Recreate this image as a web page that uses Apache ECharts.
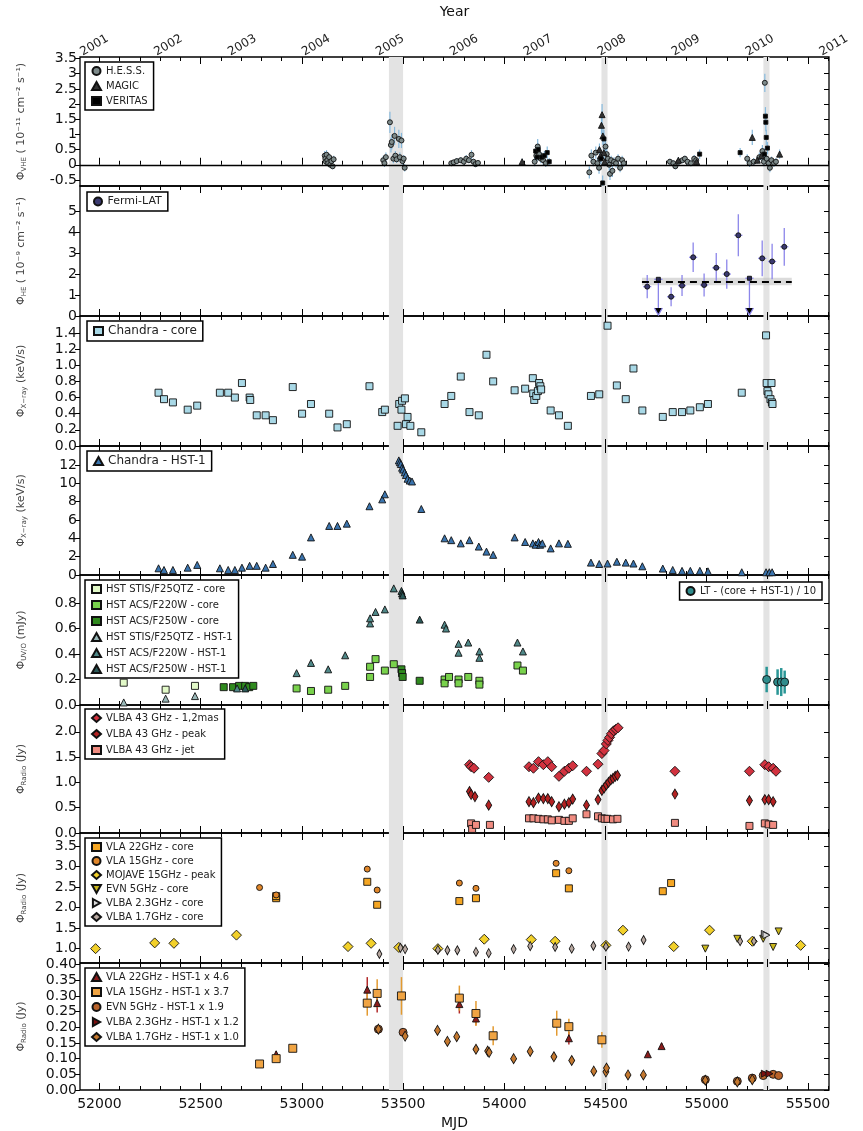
<!DOCTYPE html>
<html><head><meta charset="utf-8">
<script src="https://cdn.jsdelivr.net/npm/echarts@6/dist/echarts.min.js"></script>
<style>html,body{margin:0;padding:0;background:#fff}#c{width:863px;height:1131px}</style>
</head><body><div id="c"></div><script>
// ---------- axes / ticks ----------
const yearLabels = ['2001','2002','2003','2004','2005','2006','2007','2008','2009','2010','2011'];
const yearMJD = [51910,52275,52640,53005,53371,53736,54101,54466,54832,55197,55562];
const mjdMajor = [52000,52500,53000,53500,54000,54500,55000,55500];
const flareBands = [[53430,53500],[54480,54510],[55280,55310]];
const vheTicks = [-0.5,0,0.5,1,1.5,2,2.5,3,3.5];
const heTicks = [0,1,2,3,4,5];
const xcoreTicks = [0,0.2,0.4,0.6,0.8,1.0,1.2,1.4];
const xhstTicks = [0,2,4,6,8,10,12];
const uvoTicks = [0,0.2,0.4,0.6,0.8];
const r43Ticks = [0,0.5,1.0,1.5,2.0];
const rcoreTicks = [1.0,1.5,2.0,2.5,3.0,3.5];
const rhstTicks = [0,0.05,0.10,0.15,0.20,0.25,0.30,0.35,0.40];

// ---------- Panel 1: VHE [mjd, flux, err] ----------
const hess = [[53113,0.30,0.15],[53116,0.20,0.12],[53119,0.10,0.12],[53122,0.33,0.15],[53126,0.15,0.12],[53130,0.05,0.1],[53135,0.25,0.12],[53140,0.00,0.1],[53146,0.12,0.1],[53152,-0.05,0.1],[53157,0.18,0.12],
[53402,0.15,0.15],[53408,0.05,0.12],[53415,0.25,0.15],[53435,1.40,0.35],[53440,0.65,0.25],[53444,0.75,0.25],[53452,0.20,0.15],[53458,0.95,0.3],[53462,0.30,0.15],[53468,0.18,0.12],[53479,0.85,0.3],[53484,0.25,0.15],[53492,0.80,0.25],[53497,0.12,0.12],[53503,0.20,0.12],[53508,-0.10,0.12],
[53738,0.05,0.08],[53750,0.08,0.08],[53765,0.12,0.1],[53785,0.15,0.1],[53800,0.10,0.1],[53812,0.20,0.12],[53825,0.15,0.1],[53838,0.33,0.15],[53848,0.10,0.1],[53858,0.02,0.1],[53870,0.06,0.08],
[54150,0.10,0.15],[54158,0.30,0.2],[54165,0.60,0.25],[54172,0.35,0.2],[54180,0.20,0.15],[54192,0.15,0.15],[54205,0.05,0.12],
[54420,-0.25,0.2],[54430,0.30,0.2],[54440,0.10,0.15],[54452,0.40,0.2],[54460,0.05,0.15],[54468,-0.10,0.2],[54474,0.20,0.15],[54500,0.60,0.25],[54506,0.35,0.2],[54512,0.20,0.2],[54518,0.00,0.2],[54522,-0.30,0.2],[54528,0.15,0.15],[54534,-0.20,0.2],[54542,0.10,0.15],[54552,0.05,0.15],[54562,0.20,0.15],[54572,-0.10,0.15],[54582,0.15,0.15],[54590,0.05,0.12],
[54818,0.10,0.1],[54835,0.05,0.1],[54845,-0.05,0.1],[54862,0.10,0.1],[54880,0.15,0.1],[54892,0.20,0.1],[54905,0.10,0.1],[54922,0.05,0.1],[54938,0.20,0.12],[54948,0.15,0.1],
[55200,0.20,0.15],[55212,0.05,0.12],[55232,0.10,0.12],[55260,0.25,0.15],[55275,0.45,0.2],[55282,0.10,0.15],[55287,2.70,0.3],[55296,0.20,0.15],[55305,0.05,0.15],[55312,-0.10,0.15],[55320,0.15,0.12],[55332,0.05,0.12],[55342,0.10,0.12]];
const magic = [[54088,0.10,0.1],[54470,0.50,0.2],[54476,0.30,0.2],[54480,1.30,0.3],[54483,1.65,0.35],[54487,0.95,0.3],[54492,0.40,0.2],[54496,0.10,0.15],[54860,0.15,0.1],[54950,0.10,0.1],[55225,0.90,0.25],[55250,0.15,0.12],[55270,0.30,0.15],[55360,0.35,0.15]];
const veritas = [[54155,0.45,0.2],[54162,0.25,0.15],[54168,0.50,0.2],[54185,0.25,0.15],[54198,0.30,0.15],[54212,0.40,0.2],[54222,0.10,0.12],[54478,0.20,0.2],[54486,-0.60,0.25],[54492,0.85,0.3],[54965,0.35,0.15],[55165,0.40,0.15],[55285,0.35,0.2],[55290,1.60,0.3],[55292,1.40,0.3],[55294,0.90,0.25],[55300,0.55,0.2]];

// ---------- Panel 2: Fermi [mjd, flux, yerr, xerr] ----------
const fermi = [[54706,1.40,0.55,20],[54824,0.92,0.45,20],[54878,1.45,0.5,20],[54933,2.80,0.7,20],[54987,1.48,0.55,20],[55047,2.30,0.7,20],[55099,2.00,0.7,20],[55156,3.85,1.0,20],[55274,2.75,0.85,20],[55323,2.60,0.85,20],[55383,3.30,0.9,20]];
const fermiUL = [[54761,1.75,20],[55211,1.80,20]];
const fermiMean = 1.65, fermiMeanLo = 1.47, fermiMeanHi = 1.82, fermiFrom = 54680, fermiTo = 55420;

// ---------- Panel 3: Chandra core ----------
const chandraCore = [[52292,0.66],[52319,0.58],[52363,0.54],[52436,0.45],[52483,0.50],[52595,0.66],[52636,0.66],[52669,0.60],[52704,0.78],[52742,0.60],[52745,0.57],[52777,0.38],[52821,0.38],[52857,0.32],[52955,0.73],[53001,0.40],[53045,0.52],[53135,0.40],[53176,0.23],[53222,0.27],[53334,0.74],[53397,0.42],[53410,0.45],[53473,0.25],[53481,0.52],[53492,0.45],[53495,0.56],[53509,0.59],[53514,0.27],[53522,0.36],[53536,0.25],[53590,0.17],[53705,0.52],[53738,0.62],[53785,0.86],[53828,0.42],[53874,0.38],[53912,1.13],[53945,0.80],[54051,0.69],[54103,0.71],[54141,0.84],[54143,0.65],[54148,0.57],[54158,0.62],[54166,0.68],[54172,0.78],[54178,0.74],[54182,0.70],[54229,0.44],[54270,0.38],[54314,0.25],[54428,0.62],[54469,0.64],[54510,1.49],[54556,0.75],[54600,0.58],[54638,0.96],[54682,0.44],[54783,0.36],[54832,0.42],[54878,0.42],[54919,0.44],[54966,0.48],[55006,0.52],[55173,0.66],[55293,1.37],[55296,0.78],[55320,0.78],[55300,0.68],[55305,0.64],[55315,0.58],[55322,0.54],[55325,0.52]];

// ---------- Panel 4: Chandra HST-1 ----------
const chandraHst1 = [[52292,0.73],[52319,0.55],[52363,0.55],[52436,0.8],[52483,1.1],[52595,0.73],[52636,0.55],[52669,0.55],[52704,0.8],[52742,1.0],[52777,1.0],[52821,0.8],[52857,1.2],[52955,2.2],[53001,2.0],[53045,4.1],[53135,5.35],[53176,5.35],[53222,5.6],[53334,7.5],[53397,8.25],[53410,8.8],[53479,12.5],[53484,12.3],[53489,12.1],[53495,11.7],[53500,11.5],[53508,11.2],[53514,10.9],[53522,10.5],[53533,10.3],[53544,10.2],[53590,7.2],[53705,4.0],[53738,3.8],[53785,3.45],[53828,3.8],[53874,3.1],[53912,2.55],[53945,2.2],[54051,4.1],[54103,3.6],[54141,3.45],[54155,3.3],[54169,3.6],[54177,3.3],[54188,3.45],[54229,2.9],[54270,3.45],[54314,3.4],[54428,1.35],[54469,1.2],[54510,1.25],[54556,1.45],[54600,1.35],[54638,1.25],[54682,0.95],[54783,0.7],[54832,0.55],[54878,0.45],[54919,0.45],[54966,0.45],[55006,0.4],[55173,0.3],[55293,0.3],[55309,0.3],[55323,0.3]];

// ---------- Panel 5: UV / optical ----------
const stisCore = [[52120,0.175],[52327,0.12],[52472,0.15]];
const acs220Core = [[52974,0.13],[53045,0.11],[53130,0.12],[53214,0.15],[53337,0.30],[53337,0.22],[53364,0.36],[53410,0.27],[53454,0.32],[53705,0.20],[53705,0.17],[53727,0.22],[53774,0.20],[53774,0.17],[53822,0.22],[53877,0.19],[53877,0.16],[54065,0.31],[54092,0.27]];
const acs250Core = [[52614,0.14],[52660,0.14],[52690,0.15],[52720,0.15],[52740,0.14],[52760,0.15],[53492,0.28],[53495,0.25],[53498,0.22],[53582,0.19]];
const stisHst1 = [[52120,0.02],[52327,0.05],[52472,0.07]];
const acs220Hst1 = [[52680,0.13],[52974,0.25],[53045,0.33],[53130,0.28],[53214,0.39],[53337,0.64],[53337,0.68],[53364,0.73],[53410,0.75],[53454,0.915],[53705,0.63],[53712,0.60],[53774,0.48],[53774,0.41],[53822,0.49],[53877,0.42],[53877,0.37],[54065,0.49],[54092,0.42]];
const acs250Hst1 = [[52720,0.13],[53492,0.895],[53495,0.875],[53498,0.86],[53582,0.67]];
const ltFlux = [[55296,0.20,0.1],[55350,0.18,0.1],[55368,0.18,0.11],[55385,0.18,0.09]];

// ---------- Panel 6: VLBA 43 GHz ----------
const vlba43Mas = [[53828,1.35],[53836,1.31],[53850,1.28],[53923,1.10],[54122,1.31],[54144,1.28],[54169,1.41],[54193,1.35],[54215,1.41],[54234,1.31],[54270,1.12],[54297,1.22],[54319,1.28],[54338,1.33],[54406,1.22],[54463,1.36],[54482,1.57],[54493,1.63],[54504,1.76],[54512,1.83],[54520,1.89],[54529,1.96],[54540,2.02],[54551,2.05],[54562,2.08],[54843,1.22],[55211,1.22],[55287,1.35],[55306,1.31],[55328,1.28],[55342,1.22]];
const vlba43Peak = [[53828,0.82],[53836,0.76],[53855,0.72],[53923,0.55],[54122,0.62],[54144,0.60],[54169,0.69],[54193,0.68],[54215,0.68],[54234,0.62],[54270,0.52],[54297,0.57],[54319,0.60],[54338,0.67],[54406,0.55],[54463,0.66],[54482,0.84],[54493,0.89],[54504,0.95],[54515,1.00],[54526,1.05],[54537,1.08],[54548,1.12],[54559,1.14],[54843,0.77],[55211,0.64],[55287,0.66],[55306,0.66],[55328,0.62]];
const vlba43Jet = [[53836,0.19],[53841,0.08],[53860,0.16],[53929,0.16],[54122,0.29],[54144,0.29],[54169,0.28],[54193,0.27],[54215,0.27],[54234,0.25],[54270,0.26],[54297,0.24],[54319,0.24],[54338,0.29],[54406,0.37],[54463,0.33],[54482,0.29],[54496,0.28],[54510,0.28],[54537,0.27],[54559,0.28],[54843,0.20],[55211,0.14],[55287,0.19],[55306,0.17],[55328,0.16]];

// ---------- Panel 7: radio core ----------
const vla22Core = [[52873,2.23],[52873,2.28],[53323,2.63],[53372,2.07],[53778,2.16],[53860,2.23],[54256,2.84],[54319,2.47],[54783,2.40],[54824,2.60]];
const vla15Core = [[52791,2.49],[52873,2.31],[53323,2.94],[53372,2.43],[53778,2.60],[53860,2.47],[54256,3.08],[54319,2.90]];
const mojavePeak = [[51981,1.0],[52273,1.14],[52368,1.13],[52677,1.33],[53228,1.05],[53342,1.13],[53479,1.03],[53672,1.0],[53901,1.23],[54133,1.22],[54251,1.18],[54502,1.08],[54586,1.45],[54837,1.05],[55014,1.45],[55225,1.18],[55464,1.08]];
const evnCore = [[54993,1.0],[55151,1.24],[55279,1.24],[55328,1.04],[55355,1.42]];
const vlba23Core = [[55287,1.36],[55295,1.33]];
const vlba17Core = [[53383,0.87],[53487,1.02],[53510,0.99],[53672,0.97],[53719,0.96],[53768,0.96],[53860,0.92],[53923,0.89],[54046,0.99],[54128,1.06],[54251,1.04],[54333,1.0],[54440,1.07],[54502,1.05],[54614,1.05],[54688,1.21],[55165,1.18],[55233,1.18]];

// ---------- Panel 8: radio HST-1 ----------
const vla22Hst1 = [[52873,0.114,0.01],[53323,0.32,0.04],[53372,0.277,0.03],[53778,0.274,0.03],[53860,0.228,0.02],[54319,0.165,0.02],[54709,0.114,0.01],[54777,0.14,0.01]];
const vla15Hst1 = [[52791,0.083,0.008],[52873,0.10,0.01],[52955,0.133,0.01],[53323,0.277,0.04],[53372,0.308,0.045],[53492,0.30,0.06],[53778,0.293,0.04],[53860,0.244,0.04],[53945,0.173,0.03],[54259,0.213,0.04],[54319,0.202,0.025],[54482,0.16,0.025]];
const evnHst1 = [[53378,0.194],[53500,0.184],[54993,0.033],[55151,0.028],[55225,0.038],[55279,0.046],[55328,0.05],[55355,0.046]];
const vlba23Hst1 = [[55287,0.052],[55310,0.052]];
const vlba17Hst1 = [[53378,0.194],[53510,0.172],[53670,0.19],[53719,0.155],[53765,0.17],[53860,0.13],[53918,0.124],[53925,0.12],[54046,0.10],[54128,0.123],[54245,0.106],[54333,0.094],[54442,0.06],[54502,0.058],[54505,0.07],[54611,0.048],[54687,0.048],[54993,0.031],[55151,0.026],[55225,0.033]];

// ---------- layout ----------
const X_MIN = 51904, X_MAX = 55604;
const mjdMinor = [];
for (let v = 52000; v <= 55600; v += 100) if (mjdMajor.indexOf(v) < 0) mjdMinor.push(v);

const DOWN_TRI = 'path://M0,0 L10,0 L5,9 Z';
const RIGHT_TRI = 'path://M0,0 L9,5 L0,10 Z';

function nm(sub, unit){ return '{a|Φ}{s|' + sub + '}{a|' + unit + '}'; }
const panels = [
  {top:57,  h:129, min:-0.7, max:3.55, ticks:vheTicks,   dec:-1, name:nm('VHE',' ( 10⁻¹¹ cm⁻² s⁻¹)')},
  {top:186, h:130, min:0, max:6.2,  ticks:heTicks,    dec:0, name:nm('HE',' ( 10⁻⁹ cm⁻² s⁻¹)')},
  {top:316, h:130, min:0, max:1.61, ticks:xcoreTicks, dec:1, name:nm('X−ray',' (keV/s)')},
  {top:446, h:129, min:0, max:14.07,ticks:xhstTicks,  dec:0, name:nm('X−ray',' (keV/s)')},
  {top:575, h:130, min:0, max:1.02, ticks:uvoTicks,   dec:1, name:nm('UV/O',' (mJy)')},
  {top:705, h:128, min:0, max:2.53, ticks:r43Ticks,   dec:1, name:nm('Radio',' (Jy)')},
  {top:833, h:130, min:0.65, max:3.82, ticks:rcoreTicks, dec:1, name:nm('Radio',' (Jy)')},
  {top:963, h:131, min:0, max:0.405, ticks:rhstTicks, dec:2, name:nm('Radio',' (Jy)')}
];

const grids = [], xAxes = [], yAxes = [], series = [], legends = [];
const xMain = [], yMain = [];
function xAx(gi, pos, ticks, len, showLabel){
  return {type:'value', gridIndex:gi, position:pos, min:X_MIN, max:X_MAX,
    axisLine:{show:false}, splitLine:{show:false},
    axisTick:{show:true, inside:true, length:len, customValues:ticks, lineStyle:{color:'#000', width:1}},
    axisLabel:{show:showLabel, customValues:mjdMajor, fontSize:14, color:'#111', margin:7, formatter:v=>String(v)},
    name: showLabel ? 'MJD' : '', nameLocation:'middle', nameGap:26, nameTextStyle:{fontSize:14, color:'#111'}};
}
panels.forEach((p, gi) => {
  grids.push({left:80, right:34, top:p.top, height:p.h, show:true, borderColor:'#000', borderWidth:1.3, backgroundColor:'rgba(0,0,0,0)'});
  const last = gi === panels.length - 1;
  xMain.push(xAxes.length);
  xAxes.push(xAx(gi, 'bottom', mjdMajor, 7, last));
  xAxes.push(xAx(gi, 'bottom', mjdMinor, 4, false));
  xAxes.push(xAx(gi, 'top', mjdMajor, 7, false));
  xAxes.push(xAx(gi, 'top', mjdMinor, 4, false));
  yMain.push(yAxes.length);
  yAxes.push({type:'value', gridIndex:gi, position:'left', min:p.min, max:p.max,
    axisLine:{show:false}, splitLine:{show:false},
    axisTick:{show:true, inside:false, length:5, customValues:p.ticks, lineStyle:{color:'#000'}},
    axisLabel:{customValues:p.ticks, fontSize:14, color:'#111', margin:3,
      formatter: v => p.dec < 0 ? String(+v.toFixed(2)) : (+v).toFixed(p.dec)},
    name:p.name, nameLocation:'middle', nameGap:52,
    nameTextStyle:{rich:{a:{fontSize:11, color:'#444'}, s:{fontSize:7, color:'#444', verticalAlign:'bottom', padding:[6,0,0,0]}}}});
  yAxes.push({type:'value', gridIndex:gi, position:'right', min:p.min, max:p.max,
    axisLine:{show:false}, splitLine:{show:false},
    axisTick:{show:true, inside:true, length:5, customValues:p.ticks, lineStyle:{color:'#000'}},
    axisLabel:{show:false}});
  // flare bands
  series.push({type:'custom', xAxisIndex:xMain[gi], yAxisIndex:yMain[gi], silent:true, z:0, clip:true,
    data: flareBands.map(b => [b[0], p.min, b[1]]), encode:{x:[0,2], y:1},
    renderItem:(params, api) => {
      const cs = params.coordSys;
      const a = api.coord([api.value(0), api.value(1)])[0];
      const b = api.coord([api.value(2), api.value(1)])[0];
      return {type:'rect', shape:{x:a, y:cs.y, width:b - a, height:cs.height}, style:{fill:'#e3e3e3'}};
    }});
});
// year axis on top of first grid
xAxes.push({type:'value', gridIndex:0, position:'top', min:X_MIN, max:X_MAX,
  axisLine:{show:false}, axisTick:{show:false}, splitLine:{show:false},
  axisLabel:{customValues:yearMJD, formatter:v => yearLabels[yearMJD.indexOf(v)], rotate:-30, fontSize:12, color:'#222', margin:4},
  name:'Year', nameLocation:'middle', nameGap:38, nameTextStyle:{fontSize:14, color:'#111'}});

function sc(name, data, gi, sym, size, color, extra){
  return Object.assign({type:'scatter', name, xAxisIndex:xMain[gi], yAxisIndex:yMain[gi],
    data: data.map(d => [d[0], d[1]]), symbol:sym, symbolSize:size, z:4,
    itemStyle:{color, borderColor:'#111', borderWidth:0.9, opacity:1}}, extra || {});
}
function err(rows, gi, color, width){
  return {type:'custom', xAxisIndex:xMain[gi], yAxisIndex:yMain[gi], silent:true, z:2, clip:true,
    data: rows.map(r => [r[0], r[1] - r[2], r[1] + r[2], r[1], r.length > 3 ? r[3] : 0]),
    encode:{x:0, y:[1,2]},
    renderItem:(params, api) => {
      const x = api.value(0), y = api.value(3), xe = api.value(4);
      const a = api.coord([x, api.value(1)]), b = api.coord([x, api.value(2)]);
      const ch = [{type:'line', shape:{x1:a[0], y1:a[1], x2:b[0], y2:b[1]}, style:{stroke:color, lineWidth:width}}];
      if (xe) { const c = api.coord([x - xe, y]), d = api.coord([x + xe, y]);
        ch.push({type:'line', shape:{x1:c[0], y1:c[1], x2:d[0], y2:d[1]}, style:{stroke:color, lineWidth:width}}); }
      return {type:'group', children:ch};
    }};
}

// Panel 1
series.push(err(hess, 0, '#86b9dc', 1.2), err(magic, 0, '#86b9dc', 1.2), err(veritas, 0, '#86b9dc', 1.2));
series.push(sc('H.E.S.S.', hess, 0, 'circle', 5, '#7d8a8a', {markLine:{silent:true, symbol:'none', label:{show:false}, data:[{yAxis:0}], lineStyle:{color:'#000', type:'solid', width:1.3}}}));
series.push(sc('MAGIC', magic, 0, 'triangle', 6, '#333'));
series.push(sc('VERITAS', veritas, 0, 'rect', 4, '#000'));

// Panel 2
series.push(err(fermi, 1, '#8c86ea', 1.3));
series.push({type:'custom', xAxisIndex:xMain[1], yAxisIndex:yMain[1], silent:true, z:2, clip:false,
  data: fermiUL.map(r => [r[0], r[1], r[2]]), encode:{x:0, y:1},
  renderItem:(params, api) => {
    const x = api.value(0), y = api.value(1), xe = api.value(2);
    const a = api.coord([x, y]), b = api.coord([x, 0.05]);
    const c = api.coord([x - xe, y]), d = api.coord([x + xe, y]);
    const st = {stroke:'#8c86ea', lineWidth:1.3};
    return {type:'group', children:[
      {type:'line', shape:{x1:a[0], y1:a[1], x2:b[0], y2:b[1]}, style:st},
      {type:'line', shape:{x1:c[0], y1:c[1], x2:d[0], y2:d[1]}, style:st},
      {type:'polyline', shape:{points:[[b[0]-4, b[1]-7],[b[0], b[1]],[b[0]+4, b[1]-7]]}, style:st}]};
  }});
series.push(sc('Fermi-LAT', fermi, 1, 'circle', 5, '#3b3a70', {
  markLine:{silent:true, symbol:'none', label:{show:false}, lineStyle:{color:'#000', type:[7,5], width:2},
    data:[[{coord:[fermiFrom, fermiMean]}, {coord:[fermiTo, fermiMean]}]]},
  markArea:{silent:true, itemStyle:{color:'rgba(190,190,190,0.55)'},
    data:[[{coord:[fermiFrom, fermiMeanLo]}, {coord:[fermiTo, fermiMeanHi]}]]}}));
series.push(sc('Fermi-UL', fermiUL, 1, 'rect', 4, '#2a2a55'));

// Panel 3, 4
series.push(sc('Chandra - core', chandraCore, 2, 'rect', 7, '#a8d8e6'));
series.push(sc('Chandra - HST-1', chandraHst1, 3, 'triangle', 7, '#3a74ae'));

// Panel 5
series.push(sc('HST STIS/F25QTZ - core', stisCore, 4, 'rect', 7, '#e2f9c8'));
series.push(sc('HST ACS/F220W - core', acs220Core, 4, 'rect', 7, '#79d24c'));
series.push(sc('HST ACS/F250W - core', acs250Core, 4, 'rect', 7, '#2f8a1e'));
series.push(sc('HST STIS/F25QTZ - HST-1', stisHst1, 4, 'triangle', 7, '#9ab8b8'));
series.push(sc('HST ACS/F220W - HST-1', acs220Hst1, 4, 'triangle', 7, '#4f8888'));
series.push(sc('HST ACS/F250W - HST-1', acs250Hst1, 4, 'triangle', 7, '#2c5a5a'));
series.push(err(ltFlux, 4, '#2a9696', 2.5));
series.push(sc('LT - (core + HST-1) / 10', ltFlux, 4, 'circle', 8, '#2f8c8c'));

// Panel 6
series.push(sc('VLBA 43 GHz - 1,2mas', vlba43Mas, 5, 'diamond', 10, '#d2323f'));
series.push(sc('VLBA 43 GHz - peak', vlba43Peak, 5, 'diamond', [6,10], '#b42222'));
series.push(sc('VLBA 43 GHz - jet', vlba43Jet, 5, 'rect', 7, '#f08b80'));

// Panel 7
series.push(sc('VLA 22GHz - core', vla22Core, 6, 'rect', 7, '#f5a623'));
series.push(sc('VLA 15GHz - core', vla15Core, 6, 'circle', 6, '#e0862a'));
series.push(sc('MOJAVE 15GHz - peak', mojavePeak, 6, 'diamond', 10, '#f2d02a'));
series.push(sc('EVN 5GHz - core', evnCore, 6, DOWN_TRI, 7, '#c9b61c'));
series.push(sc('VLBA 2.3GHz - core', vlba23Core, 6, RIGHT_TRI, 7, '#d8d8d8'));
series.push(sc('VLBA 1.7GHz - core', vlba17Core, 6, 'diamond', [5,9], '#b8a8a0'));

// Panel 8
series.push(err(vla22Hst1, 7, '#b22a2a', 1.5), err(vla15Hst1, 7, '#e39a30', 1.5));
series.push(sc('VLA 22GHz - HST-1 x 4.6', vla22Hst1, 7, 'triangle', 7, '#8b1c1c'));
series.push(sc('VLA 15GHz - HST-1 x 3.7', vla15Hst1, 7, 'rect', 8, '#f0a443'));
series.push(sc('EVN 5GHz - HST-1 x 1.9', evnHst1, 7, 'circle', 8, '#b8622a'));
series.push(sc('VLBA 2.3GHz - HST-1 x 1.2', vlba23Hst1, 7, RIGHT_TRI, 7, '#7a1010'));
series.push(sc('VLBA 1.7GHz - HST-1 x 1.0', vlba17Hst1, 7, 'diamond', [6,10], '#c4782f'));

function lg(names, pos, fs, gap){
  return Object.assign({orient:'vertical', data:names, borderColor:'#000', borderWidth:1.5, borderRadius:0,
    padding:[4,6,4,6], itemGap:gap, itemWidth:9, itemHeight:8, selectedMode:false, backgroundColor:'#fff',
    textStyle:{fontSize:fs, color:'#222', fontFamily:'DejaVu Sans'}}, pos);
}
legends.push(lg(['H.E.S.S.','MAGIC','VERITAS'], {left:85, top:62}, 10, 5));
legends.push(lg(['Fermi-LAT'], {left:87, top:192}, 11, 4));
legends.push(lg(['Chandra - core'], {left:87, top:321}, 12, 4));
legends.push(lg(['Chandra - HST-1'], {left:87, top:451}, 12, 4));
legends.push(lg(['HST STIS/F25QTZ - core','HST ACS/F220W - core','HST ACS/F250W - core','HST STIS/F25QTZ - HST-1','HST ACS/F220W - HST-1','HST ACS/F250W - HST-1'], {left:85, top:580}, 10, 6));
legends.push(lg(['LT - (core + HST-1) / 10'], {right:41, top:582}, 10, 4));
legends.push(lg(['VLBA 43 GHz - 1,2mas','VLBA 43 GHz - peak','VLBA 43 GHz - jet'], {left:85, top:709}, 10, 6));
legends.push(lg(['VLA 22GHz - core','VLA 15GHz - core','MOJAVE 15GHz - peak','EVN 5GHz - core','VLBA 2.3GHz - core','VLBA 1.7GHz - core'], {left:85, top:838}, 10, 4));
legends.push(lg(['VLA 22GHz - HST-1 x 4.6','VLA 15GHz - HST-1 x 3.7','EVN 5GHz - HST-1 x 1.9','VLBA 2.3GHz - HST-1 x 1.2','VLBA 1.7GHz - HST-1 x 1.0'], {left:85, top:968}, 10, 5));

const chart = echarts.init(document.getElementById('c'), null, {renderer:'canvas'});
chart.setOption({
  animation:false, backgroundColor:'#fff',
  textStyle:{fontFamily:'DejaVu Sans'},
  grid:grids, xAxis:xAxes, yAxis:yAxes, legend:legends, series:series
});
</script></body></html>
